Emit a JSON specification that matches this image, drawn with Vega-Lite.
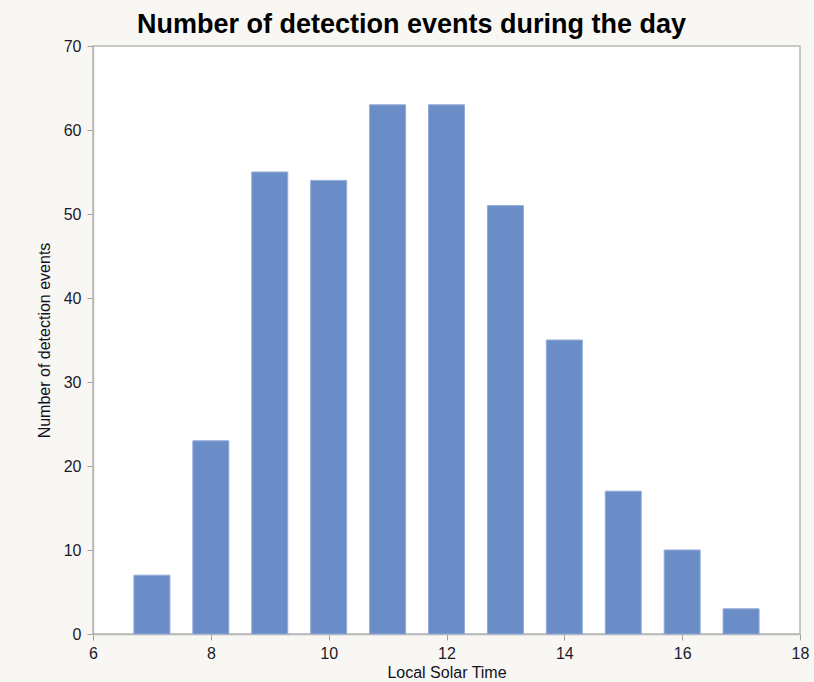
{
  "$schema": "https://vega.github.io/schema/vega-lite/v6.json",
  "autosize": "none",
  "width": 707,
  "height": 588,
  "padding": {"left": 93, "top": 46, "right": 14, "bottom": 48},
  "background": "#f8f7f4",
  "title": {
    "text": "Number of detection events during the day",
    "font": "Liberation Sans",
    "fontSize": 27,
    "fontWeight": "bold",
    "color": "#000000",
    "anchor": "middle",
    "dx": -35,
    "offset": -1
  },
  "config": {
    "view": {"stroke": "#b8b8b8", "fill": "#ffffff", "strokeWidth": 1.5},
    "axis": {
      "labelFont": "Liberation Sans",
      "titleFont": "Liberation Sans",
      "labelFontSize": 16,
      "titleFontSize": 16,
      "titleFontWeight": "normal",
      "labelColor": "#1a1a2a",
      "titleColor": "#111122",
      "labelFlush": false,
      "domainColor": "#b8b8b8",
      "domainWidth": 1.5,
      "tickColor": "#a0a0a0",
      "tickSize": 6,
      "grid": false
    }
  },
  "data": {
    "values": [
      {"hour": 7, "count": 7},
      {"hour": 8, "count": 23},
      {"hour": 9, "count": 55},
      {"hour": 10, "count": 54},
      {"hour": 11, "count": 63},
      {"hour": 12, "count": 63},
      {"hour": 13, "count": 51},
      {"hour": 14, "count": 35},
      {"hour": 15, "count": 17},
      {"hour": 16, "count": 10},
      {"hour": 17, "count": 3}
    ]
  },
  "mark": {"type": "bar", "size": 36, "fill": "#6a8cc7", "stroke": "#93acd8", "strokeWidth": 1},
  "encoding": {
    "x": {
      "field": "hour",
      "type": "quantitative",
      "scale": {"domain": [6, 18], "nice": false, "zero": false, "padding": 0},
      "axis": {"values": [6, 8, 10, 12, 14, 16, 18], "title": "Local Solar Time", "labelPadding": 5, "titlePadding": 3, "labelFlush": false}
    },
    "y": {
      "field": "count",
      "type": "quantitative",
      "scale": {"domain": [0, 70], "nice": false, "padding": 0},
      "axis": {"values": [0, 10, 20, 30, 40, 50, 60, 70], "title": "Number of detection events", "labelPadding": 6, "titlePadding": 11, "labelFlush": false}
    }
  }
}
